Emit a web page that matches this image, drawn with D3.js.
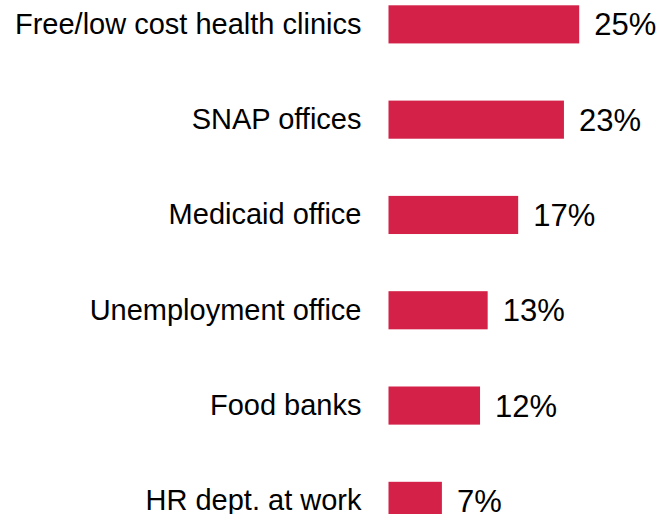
<!DOCTYPE html>
<html>
<head>
<meta charset="utf-8">
<script src="https://cdn.jsdelivr.net/npm/d3@7"></script>
<style>
  html, body { margin: 0; padding: 0; background: #fff; }
  svg { display: block; }
</style>
</head>
<body>
<svg id="chart" width="661" height="514"></svg>
<script>
const categories = ["Free/low cost health clinics", "SNAP offices", "Medicaid office", "Unemployment office", "Food banks", "HR dept. at work"];
const values = [25, 23, 17, 13, 12, 7];
const valueLabels = ["25%", "23%", "17%", "13%", "12%", "7%"];

const svg = d3.select("#chart");
const x = d3.scaleLinear().domain([0, 25]).range([388.5, 579.2]);
const y = d3.scaleBand().domain(categories).range([5.3, 5.3 + 5.4 * 95.3]).paddingInner(0.6).paddingOuter(0);

const font = "'Liberation Sans', Arial, sans-serif";

svg.selectAll("rect.bar").data(categories).enter().append("rect")
  .attr("class", "bar")
  .attr("x", x(0))
  .attr("y", d => y(d))
  .attr("width", (d, i) => x(values[i]) - x(0))
  .attr("height", y.bandwidth())
  .attr("fill", "#D32148");

svg.selectAll("text.cat").data(categories).enter().append("text")
  .attr("class", "cat")
  .attr("x", x(0) - 27)
  .attr("y", d => y(d) + y.bandwidth() / 2 + 9.5)
  .attr("text-anchor", "end")
  .style("font-family", font)
  .style("font-size", "29px")
  .attr("fill", "#000")
  .text(d => d);

svg.selectAll("text.val").data(categories).enter().append("text")
  .attr("class", "val")
  .attr("x", (d, i) => x(values[i]) + 15)
  .attr("y", d => y(d) + y.bandwidth() / 2 + 11)
  .style("font-family", font)
  .style("font-size", "31px")
  .attr("fill", "#000")
  .text((d, i) => valueLabels[i]);
</script>
</body>
</html>
